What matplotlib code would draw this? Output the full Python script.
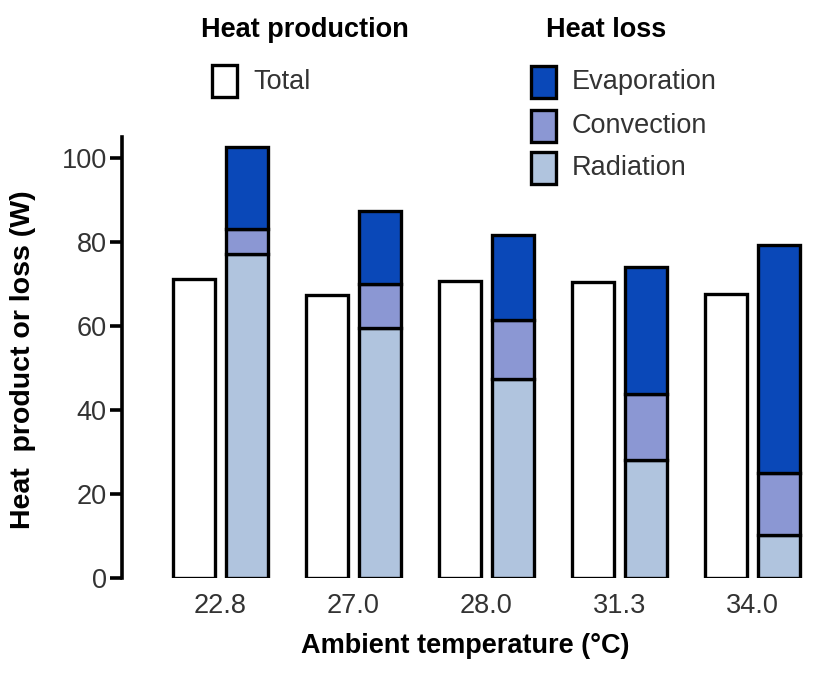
import matplotlib.pyplot as plt
from matplotlib.patches import Rectangle
import numpy as np

plt.rcParams["font.family"] = ["Liberation Sans", "DejaVu Sans"]

temps = ["22.8", "27.0", "28.0", "31.3", "34.0"]
total = [71.2, 67.4, 70.7, 70.5, 67.6]
radiation = [77.1, 59.5, 47.4, 28.0, 10.2]
convection = [6.0, 10.5, 14.1, 15.8, 14.8]
evaporation = [19.5, 17.4, 20.2, 30.2, 54.3]

c_evap = "#0a48b8"
c_conv = "#8b97d3"
c_rad = "#b0c4de"
lw = 2.4

fig = plt.figure(figsize=(8.14, 6.77), dpi=100)
ax = fig.add_axes([0.15, 0.146, 0.843, 0.652])

x = np.arange(len(temps))
w = 0.32
off = 0.2
ax.bar(x - off, total, w, color="white", edgecolor="black", linewidth=lw)
ax.bar(x + off, radiation, w, color=c_rad, edgecolor="black", linewidth=lw)
ax.bar(x + off, convection, w, bottom=radiation, color=c_conv, edgecolor="black", linewidth=lw)
cum = np.array(radiation) + np.array(convection)
ax.bar(x + off, evaporation, w, bottom=cum, color=c_evap, edgecolor="black", linewidth=lw)

ax.set_xlim(-0.74, 4.42)
ax.set_ylim(0, 105)
ax.set_yticks([0, 20, 40, 60, 80, 100])
ax.set_xticks(x)
ax.set_xticklabels(temps)
for s in ["top", "right", "bottom"]:
    ax.spines[s].set_visible(False)
ax.spines["left"].set_linewidth(2.6)
ax.spines["left"].set_bounds(0, 105)
ax.tick_params(axis="y", length=9, width=2.6, pad=2, labelsize=19.5, labelcolor="#333333")
ax.tick_params(axis="x", length=0, pad=11, labelsize=19.5, labelcolor="#333333")
ax.set_xlabel("Ambient temperature (°C)", fontsize=19.5, fontweight="bold", labelpad=10)
ax.set_ylabel("Heat  product or loss (W)", fontsize=20.5, fontweight="bold", labelpad=14)
ax.yaxis.set_label_coords(-0.125, 0.494)

# legend drawn by hand in figure pixels
W, H = 814, 677


def box(px, py, color):
    fig.add_artist(Rectangle((px / W, 1 - (py + 32) / H), 25 / W, 32 / H,
                             transform=fig.transFigure, facecolor=color,
                             edgecolor="black", linewidth=lw))


fig.text(305 / W, 1 - 30 / H, "Heat production", ha="center", va="center",
         fontsize=19.5, fontweight="bold")
box(212, 65, "white")
fig.text(253 / W, 1 - 82 / H, "Total", ha="left", va="center", fontsize=19.5, color="#333333")

fig.text(606 / W, 1 - 30 / H, "Heat loss", ha="center", va="center",
         fontsize=19.5, fontweight="bold")
for py, name, col in [(66, "Evaporation", c_evap), (110, "Convection", c_conv), (152, "Radiation", c_rad)]:
    box(531, py, col)
    fig.text(572 / W, 1 - (py + 16) / H, name, ha="left", va="center", fontsize=19.5, color="#333333")

fig.savefig("out.png", dpi=100)
